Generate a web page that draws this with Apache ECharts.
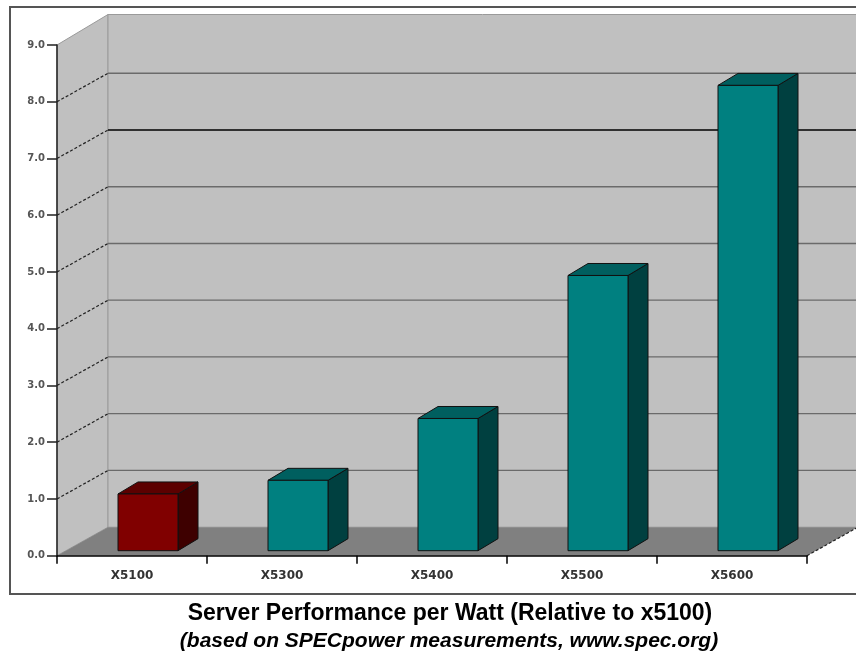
<!DOCTYPE html>
<html>
<head>
<meta charset="utf-8">
<script src="https://cdn.jsdelivr.net/npm/echarts@6/dist/echarts.min.js"></script>
<style>
    html, body { margin: 0; padding: 0; background: #fff; }
    #main { width: 856px; height: 653px; }
</style>
</head>
<body>
<div id="main"></div>
<script>
// data
const categories = ["X5100", "X5300", "X5400", "X5500", "X5600"];
const perfPerWatt = [1.0, 1.24, 2.33, 4.85, 8.2];
const gridValues = [1, 2, 3, 4, 5, 6, 7, 8, 9];
const yMax = 9;

// 3d look
const DX = 51, DY = -28.5; // depth of the floor / side wall
const BDX = 20, BDY = -12; // depth of a bar

const chart = echarts.init(document.getElementById("main"));

function renderWalls(params, api) {
    const cs = params.coordSys;
    const left = cs.x;
    const right = cs.x + cs.width;
    const y0 = api.coord([0, 0])[1];
    const yTop = api.coord([0, yMax])[1];
    const children = [];
    // side wall
    children.push({
        type: "polygon",
        shape: { points: [[left, yTop], [left + DX, yTop + DY - 2], [left + DX, y0 + DY], [left, y0]] },
        style: { fill: "#c0c0c0", stroke: "#9a9a9a", lineWidth: 1 },
    });
    // back wall
    children.push({
        type: "rect",
        shape: { x: left + DX, y: yTop + DY - 2, width: right - left + 10, height: y0 - yTop + 2 },
        style: { fill: "#c0c0c0", stroke: "#9a9a9a", lineWidth: 1 },
    });
    // floor
    children.push({
        type: "polygon",
        shape: { points: [[left, y0], [right, y0], [right + DX, y0 + DY], [left + DX, y0 + DY]] },
        style: { fill: "#808080" },
    });
    children.push({
        type: "line",
        shape: { x1: right, y1: y0, x2: right + DX, y2: y0 + DY },
        style: { stroke: "#222", lineWidth: 1.2, lineDash: [3, 2] },
    });
    gridValues.forEach((v) => {
        const y = api.coord([0, v])[1];
        if (v < yMax) {
            children.push({
                type: "line",
                shape: { x1: left + DX, y1: y + DY, x2: right + DX + 10, y2: y + DY },
                style: { stroke: v === 7 ? "#000" : "#6a6a6a", lineWidth: v === 7 ? 1.6 : 1.3 },
            });
            children.push({
                type: "line",
                shape: { x1: left, y1: y, x2: left + DX, y2: y + DY },
                style: { stroke: "#222", lineWidth: 1.2, lineDash: [3, 2] },
            });
        }
    });
    return { type: "group", children: children };
}

function renderBar(params, api) {
    const i = api.value(0);
    const base = api.coord([i, 0]);
    const top = api.coord([i, api.value(1)]);
    const x0 = base[0] - 14;
    const x1 = base[0] + 46;
    const yb = base[1] - 5;
    const yt = top[1] - 5;
    const red = i === 0;
    const front = red ? "#800000" : "#008080";
    const lid = red ? "#5c0000" : "#005f5f";
    const side = red ? "#3e0000" : "#004040";
    const line = { stroke: "#111", lineWidth: 1 };
    return {
        type: "group",
        children: [
            {
                type: "polygon",
                shape: { points: [[x1, yt], [x1 + BDX, yt + BDY], [x1 + BDX, yb + BDY], [x1, yb]] },
                style: Object.assign({ fill: side }, line),
            },
            {
                type: "polygon",
                shape: { points: [[x0, yt], [x1, yt], [x1 + BDX, yt + BDY], [x0 + BDX, yt + BDY]] },
                style: Object.assign({ fill: lid }, line),
            },
            {
                type: "rect",
                shape: { x: x0, y: yt, width: x1 - x0, height: yb - yt },
                style: Object.assign({ fill: front }, line),
            },
        ],
    };
}

const option = {
    animation: false,
    backgroundColor: "#fff",
    graphic: [
        {
            type: "rect",
            shape: { x: 10, y: 7, width: 870, height: 587 },
            style: { fill: null, stroke: "#555", lineWidth: 2 },
            z: -10,
        },
    ],
    title: [
        {
            text: "Server Performance per Watt (Relative to x5100)",
            left: 445,
            top: 597,
            textAlign: "center",
            textStyle: { fontFamily: "Liberation Sans", fontWeight: "bold", fontSize: 23, color: "#000" },
        },
        {
            text: "(based on SPECpower measurements, www.spec.org)",
            left: 444,
            top: 626,
            textAlign: "center",
            textStyle: { fontFamily: "Liberation Sans", fontWeight: "bold", fontStyle: "italic", fontSize: 21, color: "#000" },
        },
    ],
    grid: { left: 57, right: 49, top: 45, bottom: 97.3, containLabel: false },
    xAxis: {
        type: "category",
        data: categories,
        z: 10,
        axisLine: { lineStyle: { color: "#000", width: 1.5 } },
        axisTick: { show: true, interval: 0, length: 8, lineStyle: { color: "#000", width: 1.5 } },
        axisLabel: { margin: 14, color: "#333", fontFamily: "DejaVu Sans", fontWeight: "bold", fontSize: 12 },
    },
    yAxis: {
        type: "value",
        min: 0,
        max: yMax,
        interval: 1,
        z: 10,
        splitLine: { show: false },
        axisLine: { show: true, lineStyle: { color: "#222", width: 1.5 } },
        axisTick: { show: true, length: 10, lineStyle: { color: "#222", width: 1.5 } },
        axisLabel: {
            margin: 12,
            color: "#555",
            fontFamily: "DejaVu Sans",
            fontWeight: "bold",
            fontSize: 10,
            formatter: (v) => v.toFixed(1),
        },
    },
    series: [
        {
            type: "custom",
            name: "walls",
            z: 1,
            silent: true,
            clip: false,
            renderItem: renderWalls,
            data: [[0, 0]],
        },
        {
            type: "custom",
            name: "Performance per Watt",
            z: 3,
            clip: false,
            renderItem: renderBar,
            encode: { x: 0, y: 1 },
            data: perfPerWatt.map((v, i) => [i, v]),
        },
    ],
};

chart.setOption(option);
</script>
</body>
</html>
